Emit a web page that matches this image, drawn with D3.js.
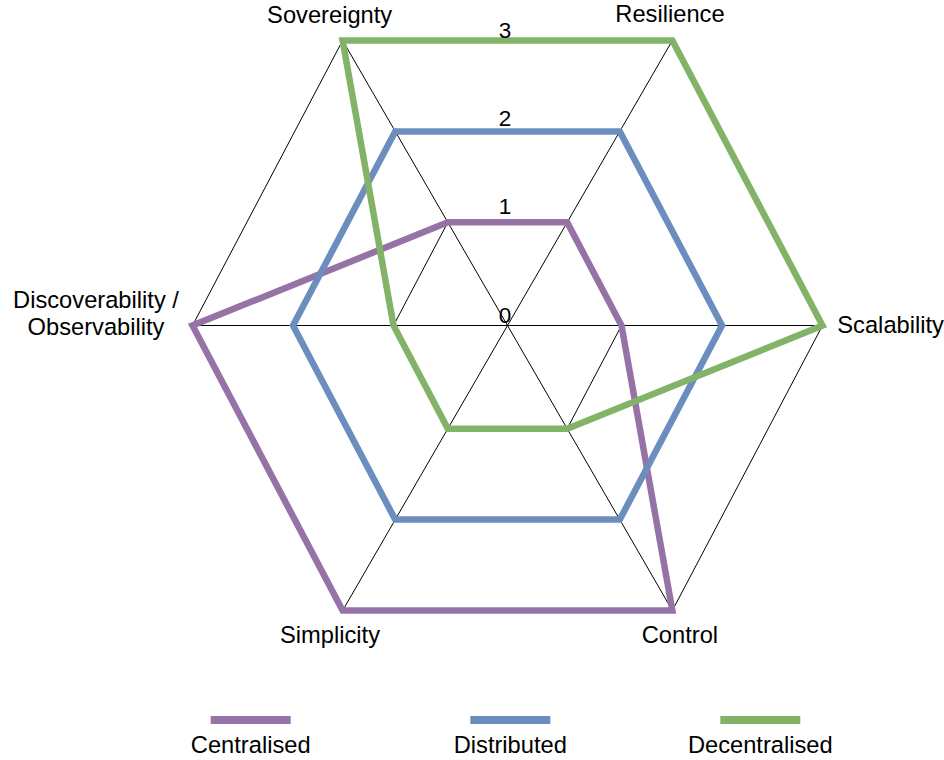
<!DOCTYPE html>
<html>
<head>
<meta charset="utf-8">
<script src="https://cdn.jsdelivr.net/npm/d3@7"></script>
<style>
  html, body { margin: 0; padding: 0; background: #ffffff; }
  svg { display: block; }
  text { font-family: "Liberation Sans", Arial, sans-serif; fill: #000; }
</style>
</head>
<body>
<svg id="chart" width="944" height="760"></svg>
<script>
// ---- data ----
const categories = ["Sovereignty", "Resilience", "Scalability", "Control", "Simplicity", "Discoverability / Observability"];
const seriesNames = ["Centralised", "Distributed", "Decentralised"];
const centralised = [1, 1, 1, 3, 3, 3];
const distributed = [2, 2, 2, 2, 2, 2];
const decentralised = [3, 3, 3, 1, 1, 1];
const tickValues = [0, 1, 2, 3];
const tickLabels = ["0", "1", "2", "3"];

// ---- layout / style ----
const W = 944, H = 760;
const cx = 507.5, cy = 325.5;
const ky = 1.062;                                   // vertical stretch of the plot
const axisAngles = [121.56, 58.44, 0, -58.44, -121.56, 180]; // degrees, CCW from +x
const colors = ["#9673a6", "#6c8ebf", "#82b366"];
const labelFont = 23.7, tickFont = 22.5;
// label offsets from the outer vertex: [dx, dy, anchor]
const labelLayout = [
  [-13, -17.8, "middle"],
  [-2.4, -18.8, "middle"],
  [14.8, 7.2, "start"],
  [7.6, 32.2, "middle"],
  [-12.6, 32.2, "middle"],
  [-96.5, -17.2, "middle"]
];
const legendX = [250.7, 510.3, 760.3];
const legendLineY = 720, legendTextY = 752.7, legendLineW = 80;

const seriesData = [centralised, distributed, decentralised];

const svg = d3.select("#chart");
svg.append("rect").attr("width", W).attr("height", H).attr("fill", "#fff");

const rScale = d3.scaleLinear().domain([0, 3]).range([13.5, 315]);
// baseline positions of the value labels along the vertical centre line
const tickY = d3.scaleLinear().domain([1, 3]).range([214, 38]);
const rad = d => d * Math.PI / 180;
function pt(i, v) {
  const a = rad(axisAngles[i]);
  const r = rScale(v);
  return [cx + r * Math.cos(a), cy - r * Math.sin(a) * ky];
}
const line = d3.line().curve(d3.curveLinearClosed);

// grid rings
const grid = svg.append("g").attr("class", "grid");
grid.selectAll("path.ring")
  .data(tickValues.filter(t => t > 0))
  .join("path")
  .attr("class", "ring")
  .attr("d", t => line(categories.map((c, i) => pt(i, t))))
  .attr("fill", "none")
  .attr("stroke", "#000")
  .attr("stroke-width", 1);

// spokes
grid.selectAll("line.spoke")
  .data(categories)
  .join("line")
  .attr("class", "spoke")
  .attr("x1", cx).attr("y1", cy)
  .attr("x2", (c, i) => pt(i, 3)[0])
  .attr("y2", (c, i) => pt(i, 3)[1])
  .attr("stroke", "#000")
  .attr("stroke-width", 1);

// series
svg.append("g").selectAll("path.series")
  .data(seriesData)
  .join("path")
  .attr("class", "series")
  .attr("d", vals => line(vals.map((v, i) => pt(i, v))))
  .attr("fill", "none")
  .attr("stroke", (d, k) => colors[k])
  .attr("stroke-width", 6.5)
  .attr("stroke-linejoin", "miter")
  .attr("stroke-miterlimit", 10);

// tick labels
svg.append("g").selectAll("text.tick")
  .data(tickValues)
  .join("text")
  .attr("class", "tick")
  .attr("x", cx - 2.5)
  .attr("y", v => v === 0 ? cy - 3 : tickY(v))
  .attr("text-anchor", "middle")
  .attr("font-size", tickFont)
  .text((v, i) => tickLabels[i]);

// axis labels
const lab = svg.append("g");
categories.forEach((c, i) => {
  const p = pt(i, 3);
  const [dx, dy, anchor] = labelLayout[i];
  const t = lab.append("text")
    .attr("x", p[0] + dx)
    .attr("y", p[1] + dy)
    .attr("text-anchor", anchor)
    .attr("font-size", labelFont);
  const parts = c.includes(" / ") ? [c.split(" / ")[0] + " /", c.split(" / ")[1]] : [c];
  parts.forEach((s, j) => {
    t.append("tspan")
      .attr("x", p[0] + dx)
      .attr("dy", j === 0 ? 0 : 26.7)
      .text(s);
  });
});

// legend
const leg = svg.append("g").selectAll("g.item")
  .data(seriesNames)
  .join("g")
  .attr("class", "item");
leg.append("line")
  .attr("x1", (d, k) => legendX[k] - legendLineW / 2)
  .attr("x2", (d, k) => legendX[k] + legendLineW / 2)
  .attr("y1", legendLineY).attr("y2", legendLineY)
  .attr("stroke", (d, k) => colors[k])
  .attr("stroke-width", 8);
leg.append("text")
  .attr("x", (d, k) => legendX[k])
  .attr("y", legendTextY)
  .attr("text-anchor", "middle")
  .attr("font-size", labelFont)
  .text(d => d);
</script>
</body>
</html>
